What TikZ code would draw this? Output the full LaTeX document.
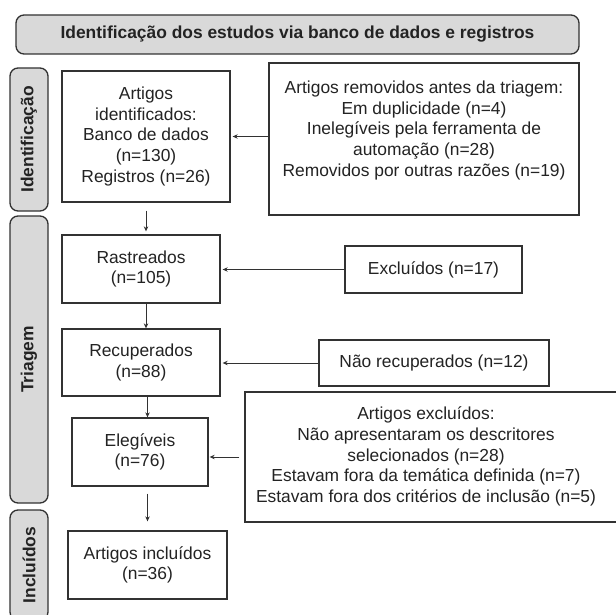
\documentclass[tikz,border=0pt]{standalone}
\usepackage{fontspec}
\setmainfont{Liberation Sans}
\usetikzlibrary{arrows.meta,calc}
\definecolor{ink}{RGB}{50,50,50}
\definecolor{txt}{RGB}{35,35,35}
\definecolor{tabgray}{RGB}{217,217,217}
\newcommand{\flowfont}{\fontsize{17.4}{20.7}\selectfont}
\tikzset{
  box/.style={draw=ink,line width=1.3pt,fill=white,inner sep=0pt,
    font=\flowfont,text=txt,align=center},
  tab/.style={draw=ink,line width=1.3pt,fill=tabgray,rounded corners=8pt,
    inner sep=0pt,font=\flowfont\bfseries,text=txt},
  side/.style={tab,rotate=90,minimum height=38pt},
  arr/.style={-{Stealth[length=5pt,width=4.5pt]},line width=0.9pt,draw=ink},
}
\begin{document}
\begin{tikzpicture}[x=1pt,y=-1pt]
  \clip (0,0) rectangle (616,615);
  % header and phase tabs
  \node[tab,minimum width=563pt,minimum height=39pt] (head) at (297.5,34.5)
    {Identificação dos estudos via banco de dados e registros};
  \node[side,minimum width=143pt] (tabId) at (29,139.5) {Identificação};
  \node[side,minimum width=287pt] (tabTri) at (29,359.5) {Triagem};
  \node[side,minimum width=110pt] (tabInc) at (29,565) {Incluídos};
  % main column
  \node[box,minimum width=168pt,minimum height=131pt] (ident) at (146,136.5)
    {Artigos\\identificados:\\Banco de dados\\(n=130)\\Registros (n=26)};
  \node[box,minimum width=158pt,minimum height=68pt] (rast) at (141,269)
    {Rastreados\\(n=105)};
  \node[box,minimum width=158pt,minimum height=67pt] (recup) at (141,362.5)
    {Recuperados\\(n=88)};
  \node[box,minimum width=136pt,minimum height=68pt] (eleg) at (140,452)
    {Elegíveis\\(n=76)};
  \node[box,minimum width=159pt,minimum height=68pt] (incl) at (147.5,565)
    {Artigos incluídos\\(n=36)};
  % side column
  \node[box,minimum width=310pt,minimum height=152pt] (rem) at (424,139)
    {Artigos removidos antes da triagem:\\Em duplicidade (n=4)\\
     Inelegíveis pela ferramenta de\\automação (n=28)\\
     Removidos por outras razões (n=19)\\\mbox{}};
  \node[box,minimum width=177pt,minimum height=47pt] (excl) at (433.5,269.5)
    {Excluídos (n=17)};
  \node[box,minimum width=230pt,minimum height=46pt] (nrec) at (434,363)
    {Não recuperados (n=12)};
  \node[box,minimum width=375pt,minimum height=130pt] (artexc) at (432.5,457)
    {\begin{tabular}{@{}c@{}}Artigos excluídos:\\Não apresentaram os descritores\\
     selecionados (n=28)\\Estavam fora da temática definida (n=7)\\
     Estavam fora dos critérios de inclusão (n=5)\end{tabular}\hspace{13pt}};
  % connectors
  \draw[arr,shorten <=8pt,shorten >=3pt] (ident.south) -- (ident.south |- rast.north);
  \draw[arr] (ident.south |- rast.south) -- (ident.south |- recup.north);
  \draw[arr] (incl.north |- recup.south) -- (incl.north |- eleg.north);
  \draw[arr,shorten <=7pt,shorten >=9pt] (incl.north |- eleg.south) -- (incl.north);
  \draw[arr,shorten >=2pt] (rem.west |- ident.east) -- (ident.east);
  \draw[arr,shorten >=2pt] (excl.west) -- (excl.west -| rast.east);
  \draw[arr,shorten >=2pt] (nrec.west) -- (nrec.west -| recup.east);
  \draw[arr,shorten <=5pt,shorten >=1pt] (artexc.west) -- (artexc.west -| eleg.east);
\end{tikzpicture}
\end{document}
